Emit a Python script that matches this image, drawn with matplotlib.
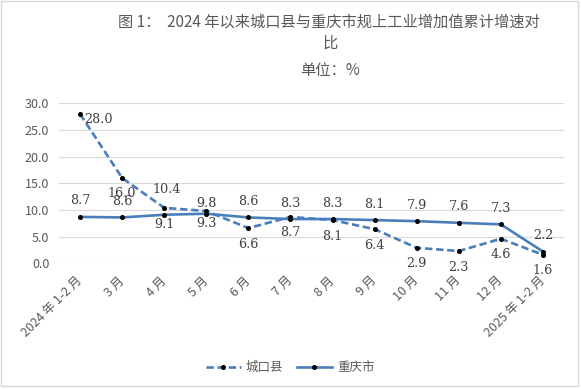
import matplotlib
matplotlib.use('Agg')
import matplotlib.pyplot as plt
from matplotlib.patches import Rectangle

plt.rcParams['font.family'] = ['Noto Sans CJK SC', 'DejaVu Sans']

# data
months = ['2024 年 1-2 月', '3 月', '4 月', '5 月', '6 月', '7 月', '8 月',
          '9 月', '10 月', '11 月', '12 月', '2025 年 1-2 月']
chengkou = [28.0, 16.0, 10.4, 9.8, 6.6, 8.7, 8.1, 6.4, 2.9, 2.3, 4.6, 1.6]
chongqing = [8.7, 8.6, 9.1, 9.3, 8.6, 8.3, 8.3, 8.1, 7.9, 7.6, 7.3, 2.2]

# label offsets in pixels (dx, dy)
ck_off = [(18, -6), (0, -16), (2, 18), (0, 8)] + [(0, -16)] * 8
cq_off = [(0, 16), (0, 16), (0, -10), (0, -10)] + [(0, 16)] * 8

blue = '#4A7EBB'
grey = '#595959'

fig = plt.figure(figsize=(5.81, 3.89), dpi=100)
ax = fig.add_axes([59 / 581, 125.7 / 389, 505 / 581, 160 / 389])

x = list(range(len(months)))
ax.plot(x, chengkou, color=blue, lw=1.9, dashes=(2.8, 1.4),
        marker='o', ms=2.6, mfc='black', mec='black', label='城口县')
ax.plot(x, chongqing, color=blue, lw=1.9,
        marker='o', ms=2.6, mfc='black', mec='black', label='重庆市')

for i in x:
    dx, dy = ck_off[i]
    ax.annotate(f'{chengkou[i]:.1f}', (i, chengkou[i]), xytext=(dx, dy),
                textcoords='offset pixels', ha='center', va='center',
                fontsize=9.2, color='#404040', family='DejaVu Serif')
    dx, dy = cq_off[i]
    ax.annotate(f'{chongqing[i]:.1f}', (i, chongqing[i]), xytext=(dx, dy),
                textcoords='offset pixels', ha='center', va='center',
                fontsize=9.2, color='#404040', family='DejaVu Serif')

ax.set_xlim(-0.5, 11.5)
ax.set_ylim(0, 30)
ax.set_yticks([0, 5, 10, 15, 20, 25, 30])
ax.set_yticklabels([f'{v:.1f}' for v in [0, 5, 10, 15, 20, 25, 30]])
ax.set_xticks(x)
ax.set_xticklabels(months, rotation=45, ha='right', va='center',
                   rotation_mode='anchor')
ax.tick_params(axis='both', length=0, labelsize=9, labelcolor=grey)
ax.tick_params(axis='y', pad=7)
ax.tick_params(axis='x', pad=11)
ax.grid(axis='y', color='#d9d9d9', lw=0.8)
ax.set_axisbelow(True)
for s in ax.spines.values():
    s.set_visible(False)

fig.text(329 / 581, 1 - 21.7 / 389, '图 1：  2024 年以来城口县与重庆市规上工业增加值累计增速对',
         ha='center', va='center', fontsize=11, color=grey)
fig.text(330 / 581, 1 - 43 / 389, '比', ha='center', va='center', fontsize=11, color=grey)
fig.text(330 / 581, 1 - 70 / 389, '单位：%', ha='center', va='center', fontsize=11, color=grey)

fig.legend(loc='center', bbox_to_anchor=(290 / 581, 1 - 367.7 / 389), ncol=2,
           frameon=False, fontsize=9, labelcolor=grey, handlelength=2.8,
           handletextpad=0.4, columnspacing=1.1, numpoints=1)

fig.patches.append(Rectangle((1 / 581, 3 / 389), 577 / 581, 385 / 389,
                             transform=fig.transFigure, fill=False,
                             ec='#d9d9d9', lw=1))

fig.savefig('out.png', dpi=100)
